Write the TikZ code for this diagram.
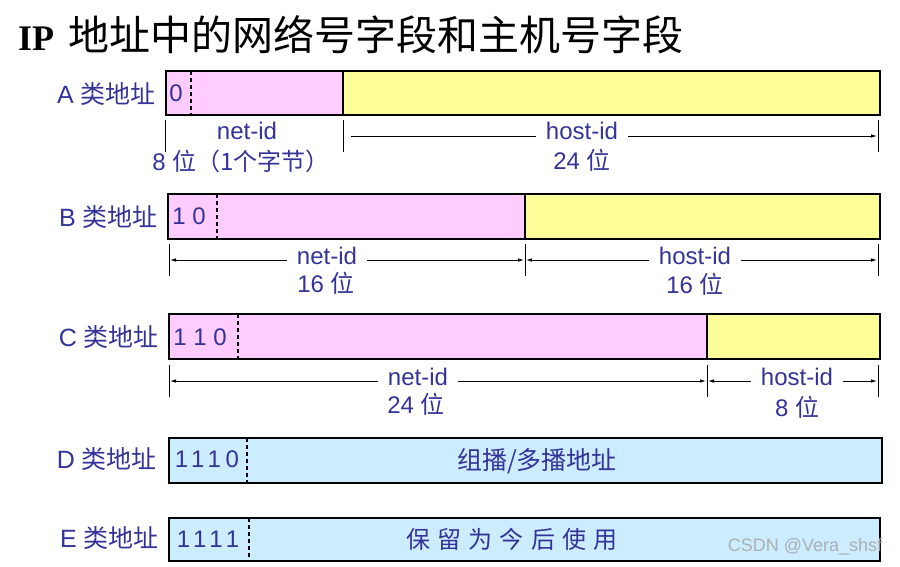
\documentclass[tikz,border=0pt]{standalone}
\usepackage{fontspec}
\setmainfont{Liberation Sans}
\newfontfamily\titlefont{Liberation Serif}
\newfontfamily\cjk{Noto Sans CJK SC}
\newfontfamily\cjkwide{Noto Sans CJK SC}[WordSpace=1.35]
\newfontfamily\bitfont{Liberation Sans}[LetterSpace=20]
\usetikzlibrary{arrows.meta}

\definecolor{netpink}{HTML}{FFCCFF}
\definecolor{hostyellow}{HTML}{FFFF99}
\definecolor{resblue}{HTML}{CCECFF}
\definecolor{txtblue}{HTML}{333399}

\tikzset{
  lbl/.style={text=txtblue, font=\fontsize{24}{28}\selectfont, inner sep=1pt},
  classlbl/.style={lbl, anchor=east, font=\fontsize{25}{28}\selectfont},
  field/.style={draw, line width=2.5pt},
  sep/.style={line width=1.8pt, dash pattern=on 4pt off 3pt},
  tick/.style={line width=0.8pt},
  dim/.style={tick, -{Latex[length=6pt,width=3.5pt]}, shorten >=1pt},
}

\begin{document}
\begin{tikzpicture}[x=1pt,y=-1pt]
\useasboundingbox (0,0) rectangle (900,566);

% title
\node[anchor=base west, inner sep=0pt] (title) at (18,50)
  {{\titlefont\bfseries\fontsize{36}{40}\selectfont IP}\hspace{14pt}{\cjk\fontsize{41}{44}\selectfont 地址中的网络号字段和主机号字段}};

% class A
\fill[netpink] (166,71) rectangle (343,115);
\fill[hostyellow] (343,71) rectangle (880,115);
\draw[sep] (191,71) -- (191,115);
\draw[field] (166,71) rectangle (880,115) (343,71) -- (343,115);
\node[classlbl] (alab) at (157,94) {A \cjk 类地址};
\node[lbl] (abits) at (176,93) {0};

% class B
\fill[netpink] (168,194) rectangle (525,239);
\fill[hostyellow] (525,194) rectangle (880,239);
\draw[sep] (217,194) -- (217,239);
\draw[field] (168,194) rectangle (880,239) (525,194) -- (525,239);
\node[classlbl] (blab) at (159,217) {B \cjk 类地址};
\node[lbl] (bbits) at (189,216) {1 0};

% class C
\fill[netpink] (169,314) rectangle (707,359);
\fill[hostyellow] (707,314) rectangle (880,359);
\draw[sep] (238,314) -- (238,359);
\draw[field] (169,314) rectangle (880,359) (707,314) -- (707,359);
\node[classlbl] (clab) at (160,337) {C \cjk 类地址};
\node[lbl] (cbits) at (200,337) {1 1 0};

% class D
\fill[resblue] (169,438) rectangle (882,483);
\draw[sep] (247,438) -- (247,483);
\draw[field] (169,438) rectangle (882,483);
\node[classlbl] (dlab) at (158,459) {D \cjk 类地址};
\node[lbl] (dbits) at (207,459) {\bitfont 1110};
\node[lbl, font=\fontsize{25}{28}\selectfont] (dtext) at (537,461) {\cjk 组播/多播地址};

% class E
\fill[resblue] (169,518) rectangle (880,561);
\draw[sep] (249,518) -- (249,561);
\draw[field] (169,518) rectangle (880,561);
\node[classlbl] (elab) at (160,538) {E \cjk 类地址};
\node[lbl] (ebits) at (208,539) {\bitfont 1111};
\node[lbl] (etext) at (512,539) {\cjkwide 保 留 为 今 后 使 用};

% tick marks
\coordinate (a1) at (165,136);
\coordinate (a2) at (343,136);
\coordinate (a3) at (878,136);
\coordinate (b1) at (169,260);
\coordinate (b2) at (525,260);
\coordinate (b3) at (878,260);
\coordinate (c1) at (169,381);
\coordinate (c2) at (707,381);
\coordinate (c3) at (878,381);
\foreach \t in {a1,a2,a3,b1,b2,b3,c1,c2,c3}
  \draw[tick] ([yshift=16pt]\t) -- ([yshift=-16pt]\t);

% widths of the fields
\node[lbl] (anet) at (247,131) {net-id};
\node[lbl] (abyte) at (241,161) {8 \cjk 位（1个字节）};
\node[lbl] (ahost) at (582,131) {host-id};
\node[lbl] (a24) at (582,160) {24 \cjk 位};
\draw[tick] ([xshift=-9pt]ahost.west |- a2) -- ([xshift=8pt]a2);
\draw[dim] ([xshift=9pt]ahost.east |- a3) -- (a3);

\node[lbl] (bnet) at (327,256) {net-id};
\node[lbl] (b16n) at (326,283) {16 \cjk 位};
\node[lbl] (bhost) at (695,256) {host-id};
\node[lbl] (b16h) at (695,284) {16 \cjk 位};
\draw[dim] ([xshift=-9pt]bnet.west |- b1) -- (b1);
\draw[dim] ([xshift=9pt]bnet.east |- b2) -- (b2);
\draw[dim] ([xshift=-9pt]bhost.west |- b2) -- (b2);
\draw[dim] ([xshift=9pt]bhost.east |- b3) -- (b3);

\node[lbl] (cnet) at (418,377) {net-id};
\node[lbl] (c24) at (416,404) {24 \cjk 位};
\node[lbl] (chost) at (797,377) {host-id};
\node[lbl] (c8) at (797,407) {8 \cjk 位};
\draw[dim] ([xshift=-9pt]cnet.west |- c1) -- (c1);
\draw[dim] ([xshift=9pt]cnet.east |- c2) -- (c2);
\draw[dim] ([xshift=-9pt]chost.west |- c2) -- (c2);
\draw[dim] ([xshift=9pt]chost.east |- c3) -- (c3);

% watermark
\node[text=gray!70, opacity=0.85, font=\fontsize{18}{20}\selectfont, inner sep=0pt] (wm) at (805,547) {CSDN @Vera\_shsf};
\end{tikzpicture}
\end{document}
